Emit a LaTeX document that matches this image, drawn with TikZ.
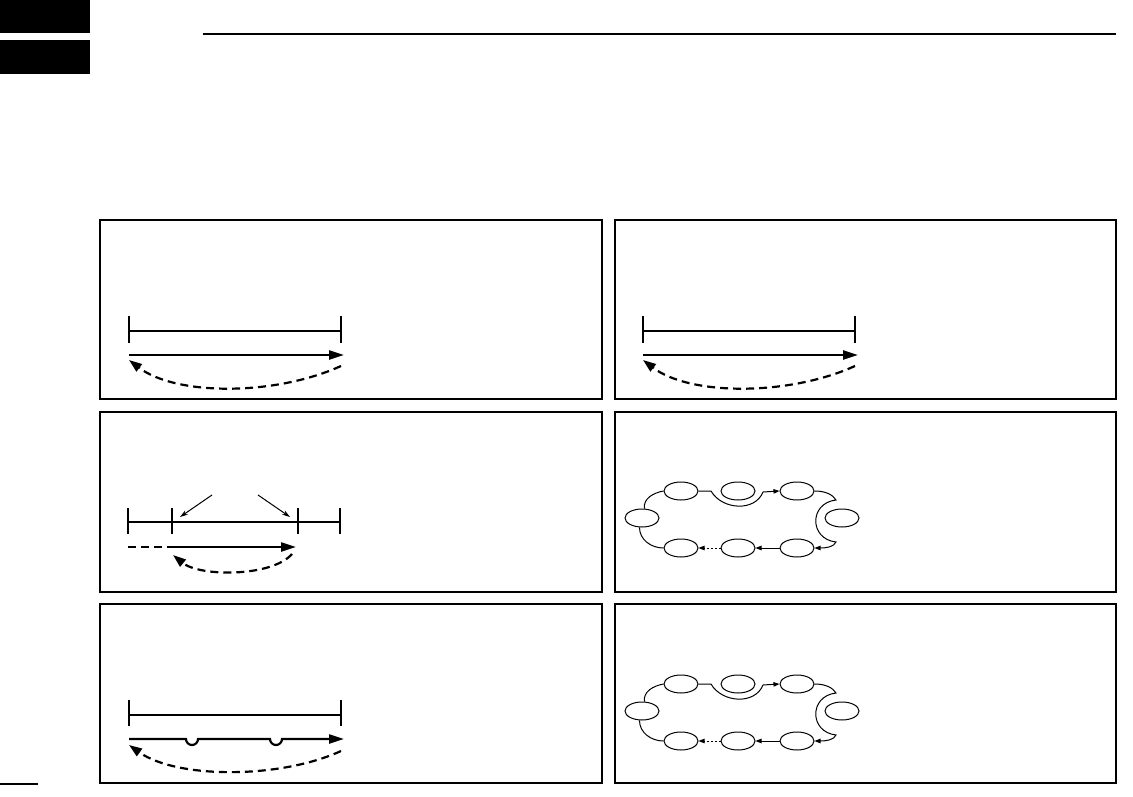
\documentclass[tikz,border=0pt]{standalone}
\usetikzlibrary{arrows.meta,shapes.geometric}
\begin{document}
\begin{tikzpicture}[x=1pt,y=-1pt,
  panel/.style={line width=1.6pt},
  bar/.style={line width=2.2pt},
  bigarrow/.style={line width=2.2pt,-{Triangle[length=15pt,width=9pt]}},
  backarrow/.style={line width=2.2pt,dash pattern=on 8pt off 5pt,-{Triangle[length=13pt,width=9pt]}},
  tinyarrow/.style={line width=1pt,-{Stealth[length=8pt,width=5pt]}},
  st/.style={draw,ellipse,line width=1pt,minimum width=34pt,minimum height=18pt,inner sep=0pt},
  link/.style={line width=1pt},
  smallhead/.style={-{Triangle[length=6pt,width=4.5pt]}}
]
\useasboundingbox (0,0) rectangle (1133,797);
% header
\fill (0,0) rectangle (90,33);
\fill (0,40) rectangle (90,74);
\draw[line width=2pt] (203,34) -- (1116,34);
\draw[line width=1.5pt] (0,784) -- (38,784);
% panels
\draw[panel] (100,220) rectangle (602,399);
\draw[panel] (615,220) rectangle (1116,399);
\draw[panel] (100,412) rectangle (602,592);
\draw[panel] (615,412) rectangle (1116,592);
\draw[panel] (100,604) rectangle (602,783);
\draw[panel] (615,604) rectangle (1116,783);

% panel 1 left
\coordinate (p1a) at (129,331); \coordinate (p1b) at (341,331);
\draw[bar] (p1a) -- (p1b);
\draw[bar] (129,316) -- (129,343);
\draw[bar] (341,316) -- (341,343);
\coordinate (p1s) at (129,355); \coordinate (p1e) at (344,355);
\draw[bigarrow] (p1s) -- (p1e);
\coordinate (p1r) at (341,366); \coordinate (p1l) at (129,360);
\draw[backarrow] (p1r) .. controls (275,396) and (176,396) .. (p1l);

% panel 1 right
\coordinate (q1a) at (643,331); \coordinate (q1b) at (855,331);
\draw[bar] (q1a) -- (q1b);
\draw[bar] (643,316) -- (643,343);
\draw[bar] (855,316) -- (855,343);
\coordinate (q1s) at (643,355); \coordinate (q1e) at (858,355);
\draw[bigarrow] (q1s) -- (q1e);
\coordinate (q1r) at (855,366); \coordinate (q1l) at (643,360);
\draw[backarrow] (q1r) .. controls (789,396) and (690,396) .. (q1l);

% panel 2 left
\coordinate (p2a) at (128,522); \coordinate (p2b) at (340,522);
\draw[bar] (p2a) -- (p2b);
\foreach \x in {128,172,298,340} \draw[bar] (\x,508) -- (\x,534);
\coordinate (m1s) at (212,495); \coordinate (m1e) at (180,517);
\coordinate (m2s) at (258,495); \coordinate (m2e) at (290,517);
\draw[tinyarrow] (m1s) -- (m1e);
\draw[tinyarrow] (m2s) -- (m2e);
\coordinate (p2d) at (128,547); \coordinate (p2m) at (172,547); \coordinate (p2e) at (296,547);
\draw[line width=2.2pt,dash pattern=on 8pt off 5pt] (p2d) -- (p2m);
\draw[bigarrow] (p2m) -- (p2e);
\coordinate (p2r) at (292,554); \coordinate (p2l) at (173,555);
\draw[backarrow] (p2r) .. controls (272,577) and (200,577) .. (p2l);

% panel 3 left
\coordinate (p3a) at (129,715); \coordinate (p3b) at (341,715);
\draw[bar] (p3a) -- (p3b);
\draw[bar] (129,700) -- (129,726);
\draw[bar] (341,700) -- (341,726);
\draw[line width=2.2pt,-{Triangle[length=15pt,width=9pt]}]
  (129,739) -- (186,739) arc[start angle=180,end angle=0,radius=6]
  -- (270,739) arc[start angle=180,end angle=0,radius=6] -- (344,739);
\coordinate (p3r) at (341,751); \coordinate (p3l) at (129,745);
\draw[backarrow] (p3r) .. controls (280,779) and (177,779) .. (p3l);

% ellipse loops
\foreach \dy/\n in {0/a,193/b}{
\begin{scope}[shift={(0,\dy)}]
  \node[st] (\n1) at (681,491) {};
  \node[st] (\n2) at (738,491) {};
  \node[st] (\n3) at (797,491) {};
  \node[st] (\n4) at (642,518) {};
  \node[st] (\n5) at (842,518) {};
  \node[st] (\n6) at (681,548) {};
  \node[st] (\n7) at (738,548) {};
  \node[st] (\n8) at (797,548) {};
  \draw[link] (\n4.75) to[out=100,in=190] (\n1.west);
  \draw[link] (\n4.-105) to[out=-90,in=180] (\n6.west);
  \draw[link,smallhead] (\n1.east) -- (711,491) .. controls (722,510) and (755,512) .. (763,492) -- (\n3.west);
  \draw[link,smallhead] (\n3.east) .. controls (826,491) and (833,495) .. (836,500)
     .. controls (809,503) and (809,539) .. (836,542)
     .. controls (834,547) and (826,548) .. (\n8.east);
  \draw[link,smallhead] (\n8.west) -- (\n7.east);
  \draw[link,smallhead,dash pattern=on 2pt off 2pt] (\n7.west) -- (\n6.east);
\end{scope}
}
\end{tikzpicture}
\end{document}
